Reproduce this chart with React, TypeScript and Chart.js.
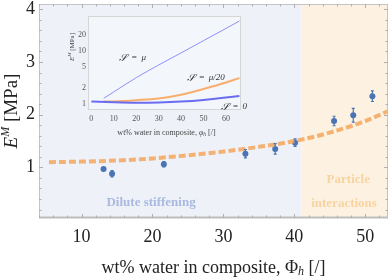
import React, { useEffect, useRef } from "react";
import { Chart, registerables } from "chart.js";
Chart.register(...registerables);

// ---------- main chart data ----------
const pointX = [13.1, 14.3, 21.6, 33.1, 37.3, 40.1, 45.6, 48.3, 51.0];
const pointY = [0.97, 0.88, 1.06, 1.26, 1.35, 1.47, 1.88, 1.99, 2.35];
const pointErr = [0.02, 0.06, 0.05, 0.08, 0.1, 0.07, 0.09, 0.13, 0.1];
const curveX = [5.4, 10, 15, 20, 25, 30, 35, 40, 45, 50, 53.4];
const curveY = [1.1, 1.11, 1.13, 1.17, 1.23, 1.3, 1.39, 1.5, 1.66, 1.88, 2.08];
const xTicks = [10, 20, 30, 40, 50];
const yTicks = [1, 2, 3, 4];
const regionSplit = 41;

// ---------- inset data ----------
const muX = [5.5, 10, 20, 30, 40, 50, 60, 66];
const muY = [1.29, 1.7, 3.13, 5.4, 9.1, 15.4, 26, 35.8];
const mu20X = [5.5, 10, 20, 30, 40, 50, 60, 66];
const mu20Y = [1.12, 1.13, 1.19, 1.28, 1.5, 1.93, 2.55, 3.1];
const zeroX = [0, 10, 20, 30, 40, 50, 60, 66];
const zeroY = [1.13, 1.09, 1.07, 1.08, 1.12, 1.2, 1.33, 1.43];
const insetXTicks = [0, 10, 20, 30, 40, 50, 60];
const insetYTicks = [1, 2, 5, 10, 20];

const SERIF = "'Liberation Serif', 'DejaVu Serif', serif";

type Seg = { t: string; f: string; dy?: number };
function drawRich(ctx: CanvasRenderingContext2D, segs: Seg[], cx: number, cy: number, rot: number, color: string) {
  ctx.save();
  ctx.translate(cx, cy);
  ctx.rotate(rot);
  ctx.textBaseline = "middle";
  ctx.textAlign = "left";
  ctx.fillStyle = color;
  let w = 0;
  for (const s of segs) {
    ctx.font = s.f;
    w += ctx.measureText(s.t).width;
  }
  let x = -w / 2;
  for (const s of segs) {
    ctx.font = s.f;
    ctx.fillText(s.t, x, s.dy || 0);
    x += ctx.measureText(s.t).width;
  }
  ctx.restore();
}

const noPad = (s: any) => {
  s.paddingTop = 0;
  s.paddingBottom = 0;
  s.paddingLeft = 0;
  s.paddingRight = 0;
};

const mainPlugin = {
  id: "mainDecor",
  beforeDatasetsDraw(chart: any) {
    const { ctx, chartArea: a, scales } = chart;
    const xs = scales.x;
    const split = xs.getPixelForValue(regionSplit);
    ctx.save();
    ctx.fillStyle = "#eef2f8";
    ctx.fillRect(a.left, a.top, split - a.left, a.bottom - a.top);
    ctx.fillStyle = "#fdf2e2";
    ctx.fillRect(split, a.top, a.right - split, a.bottom - a.top);
    const ys = scales.y;
    ctx.font = "bold 13px " + SERIF;
    ctx.textAlign = "center";
    ctx.textBaseline = "middle";
    ctx.fillStyle = "#a9b9e0";
    ctx.fillText("Dilute stiffening", xs.getPixelForValue(19.8), ys.getPixelForValue(0.335));
    ctx.fillStyle = "#f8d3a0";
    ctx.fillText("Particle", xs.getPixelForValue(47.6), ys.getPixelForValue(0.77));
    ctx.fillText("interactions", xs.getPixelForValue(47.0), ys.getPixelForValue(0.32));
    ctx.restore();
  },
  afterDatasetsDraw(chart: any) {
    const { ctx, chartArea: a, scales } = chart;
    const xs = scales.x;
    const ys = scales.y;
    ctx.save();
    ctx.strokeStyle = "#4a74b4";
    ctx.lineWidth = 1.2;
    pointX.forEach((x, i) => {
      const px = xs.getPixelForValue(x);
      const y1 = ys.getPixelForValue(pointY[i] - pointErr[i]);
      const y2 = ys.getPixelForValue(pointY[i] + pointErr[i]);
      ctx.beginPath();
      ctx.moveTo(px, y1);
      ctx.lineTo(px, y2);
      ctx.stroke();
      ctx.beginPath();
      ctx.moveTo(px - 1.5, y1);
      ctx.lineTo(px + 1.5, y1);
      ctx.moveTo(px - 1.5, y2);
      ctx.lineTo(px + 1.5, y2);
      ctx.stroke();
    });
    ctx.strokeStyle = "#c4c4c4";
    ctx.lineWidth = 1;
    ctx.strokeRect(a.left + 0.5, a.top + 0.5, a.right - a.left - 1, a.bottom - a.top - 1);
    ctx.fillStyle = "#bdbdbd";
    ctx.fillRect(a.left, a.bottom - 1.5, a.right - a.left, 2);
    ctx.strokeStyle = "#b0b0b0";
    for (let v = 4; v <= 53; v += 2) {
      const px = Math.round(xs.getPixelForValue(v)) + 0.5;
      const L = v % 10 === 0 ? 4 : 2.5;
      ctx.beginPath();
      ctx.moveTo(px, a.bottom);
      ctx.lineTo(px, a.bottom - L);
      ctx.moveTo(px, a.top);
      ctx.lineTo(px, a.top + L);
      ctx.stroke();
    }
    for (let k = 1; k <= 20; k++) {
      const v = k * 0.2;
      const py = Math.round(ys.getPixelForValue(v)) + 0.5;
      const L = k % 5 === 0 ? 4 : 2.5;
      ctx.beginPath();
      ctx.moveTo(a.left, py);
      ctx.lineTo(a.left + L, py);
      ctx.moveTo(a.right, py);
      ctx.lineTo(a.right - L, py);
      ctx.stroke();
    }
    ctx.restore();
    drawRich(
      ctx,
      [
        { t: "wt% water in composite, ", f: "18px " + SERIF },
        { t: "Φ", f: "18px " + SERIF },
        { t: "h", f: "italic 12px " + SERIF, dy: 4 },
        { t: " [/]", f: "18px " + SERIF },
      ],
      (a.left + a.right) / 2,
      268,
      0,
      "#222"
    );
    drawRich(
      ctx,
      [
        { t: "E", f: "italic 19px " + SERIF },
        { t: "M", f: "italic 12px " + SERIF, dy: -6 },
        { t: " [MPa]", f: "19px " + SERIF },
      ],
      12,
      (a.top + a.bottom) / 2,
      -Math.PI / 2,
      "#222"
    );
  },
};

const insetPlugin = {
  id: "insetDecor",
  beforeDatasetsDraw(chart: any) {
    const { ctx, chartArea: a } = chart;
    ctx.save();
    ctx.fillStyle = "rgba(246,248,251,0.6)";
    ctx.fillRect(a.left, a.top, a.right - a.left, a.bottom - a.top);
    ctx.restore();
  },
  afterDatasetsDraw(chart: any) {
    const { ctx, chartArea: a, scales } = chart;
    const xs = scales.x;
    const ys = scales.y;
    ctx.save();
    ctx.strokeStyle = "#d6d6d6";
    ctx.lineWidth = 1;
    ctx.strokeRect(a.left + 0.5, a.top + 0.5, a.right - a.left - 1, a.bottom - a.top - 1);
    ctx.restore();
    const f = "italic 9px " + SERIF;
    const lab = (s: string, x: number, y: number) =>
      drawRich(
        ctx,
        [
          { t: "𝒮", f: "italic 10px " + SERIF },
          { t: "\u2002=\u2002", f: "9px " + SERIF },
          { t: s, f },
        ],
        xs.getPixelForValue(x),
        ys.getPixelForValue(y),
        0,
        "#333"
      );
    lab("μ", 18.4, 7.3);
    lab("μ/20", 51, 3.1);
    lab("0", 63.5, 0.89);
    drawRich(
      ctx,
      [
        { t: "wt% water in composite, ", f: "8px " + SERIF },
        { t: "φ", f: "italic 8px " + SERIF },
        { t: "h", f: "italic 5.5px " + SERIF, dy: 2 },
        { t: " [/]", f: "8px " + SERIF },
      ],
      (a.left + a.right) / 2 + 2,
      a.bottom + 23,
      0,
      "#444"
    );
    drawRich(
      ctx,
      [
        { t: "E", f: "italic 7px " + SERIF },
        { t: "M", f: "italic 5px " + SERIF, dy: -2.5 },
        { t: " [MPa]", f: "7px " + SERIF },
      ],
      a.left - 16,
      a.top + 31,
      -Math.PI / 2,
      "#444"
    );
  },
};

export default function App() {
  const mainRef = useRef<HTMLCanvasElement>(null);
  const insetRef = useRef<HTMLCanvasElement>(null);

  useEffect(() => {
    const tickFont = { family: SERIF, size: 18 };
    const noGrid = { display: false, drawTicks: false, tickLength: 0 };
    const main = new Chart(mainRef.current as HTMLCanvasElement, {
      type: "scatter",
      data: {
        datasets: [
          {
            type: "line",
            data: curveX.map((x, i) => ({ x, y: curveY[i] })),
            borderColor: "rgba(243,166,92,0.85)",
            borderWidth: 4,
            borderDash: [7, 3],
            pointRadius: 0,
            cubicInterpolationMode: "monotone",
            fill: false,
          } as any,
          {
            type: "scatter",
            data: pointX.map((x, i) => ({ x, y: pointY[i] })),
            backgroundColor: "#4a74b4",
            borderColor: "#4a74b4",
            pointRadius: 3,
            borderWidth: 0,
          },
        ],
      },
      options: {
        animation: false,
        responsive: false,
        maintainAspectRatio: false,
        layout: { padding: { top: 1, right: 1, left: 0, bottom: 0 } },
        plugins: { legend: { display: false }, tooltip: { enabled: false } },
        scales: {
          x: {
            type: "linear",
            min: 4,
            max: 53.2,
            afterFit: (s: any) => {
              s.height = 61;
              noPad(s);
            },
            afterBuildTicks: (s: any) => {
              s.ticks = xTicks.map((v) => ({ value: v }));
            },
            ticks: { font: tickFont, color: "#222", padding: 8, maxRotation: 0, autoSkip: false },
            grid: noGrid,
            border: { display: false },
          },
          y: {
            type: "linear",
            min: 0.04,
            max: 4.1,
            afterFit: (s: any) => {
              s.width = 39;
              noPad(s);
            },
            afterBuildTicks: (s: any) => {
              s.ticks = yTicks.map((v) => ({ value: v }));
            },
            ticks: { font: tickFont, color: "#222", padding: 4, autoSkip: false },
            grid: noGrid,
            border: { display: false },
          },
        },
      },
      plugins: [mainPlugin],
    });

    const insetFont = { family: SERIF, size: 8 };
    const mk = (xs: number[], ys: number[]) => xs.map((x, i) => ({ x, y: ys[i] }));
    const inset = new Chart(insetRef.current as HTMLCanvasElement, {
      type: "line",
      data: {
        datasets: [
          { data: mk(zeroX, zeroY), borderColor: "#6a6cf2", borderWidth: 2, pointRadius: 0, cubicInterpolationMode: "monotone" } as any,
          { data: mk(mu20X, mu20Y), borderColor: "#f8ae6c", borderWidth: 2, pointRadius: 0, cubicInterpolationMode: "monotone" } as any,
          { data: mk(muX, muY), borderColor: "#8e90f8", borderWidth: 1, pointRadius: 0, cubicInterpolationMode: "monotone" } as any,
        ],
      },
      options: {
        animation: false,
        responsive: false,
        maintainAspectRatio: false,
        layout: { padding: { top: 8, right: 19, left: 0, bottom: 0 } },
        plugins: { legend: { display: false }, tooltip: { enabled: false } },
        scales: {
          x: {
            type: "linear",
            min: -1.5,
            max: 66.7,
            afterFit: (s: any) => {
              s.height = 33;
              noPad(s);
            },
            afterBuildTicks: (s: any) => {
              s.ticks = insetXTicks.map((v) => ({ value: v }));
            },
            ticks: { font: insetFont, color: "#555", padding: 4, maxRotation: 0, autoSkip: false },
            grid: noGrid,
            border: { display: false },
          },
          y: {
            type: "logarithmic",
            min: 0.78,
            max: 44.4,
            afterFit: (s: any) => {
              s.width = 28;
              noPad(s);
            },
            afterBuildTicks: (s: any) => {
              s.ticks = insetYTicks.map((v) => ({ value: v }));
            },
            ticks: { font: insetFont, color: "#555", padding: 2, autoSkip: false, callback: (v: any) => String(v) },
            grid: noGrid,
            border: { display: false },
          },
        },
      },
      plugins: [insetPlugin],
    });

    return () => {
      main.destroy();
      inset.destroy();
    };
  }, []);

  return (
    <div style={{ position: "fixed", left: 0, top: 0, width: 392, height: 279, background: "#fff" }}>
      <canvas ref={mainRef} width={392} height={279} style={{ position: "absolute", left: 0, top: 0, width: 392, height: 279 }} />
      <canvas ref={insetRef} width={200} height={135} style={{ position: "absolute", left: 60, top: 8, width: 200, height: 135 }} />
    </div>
  );
}
